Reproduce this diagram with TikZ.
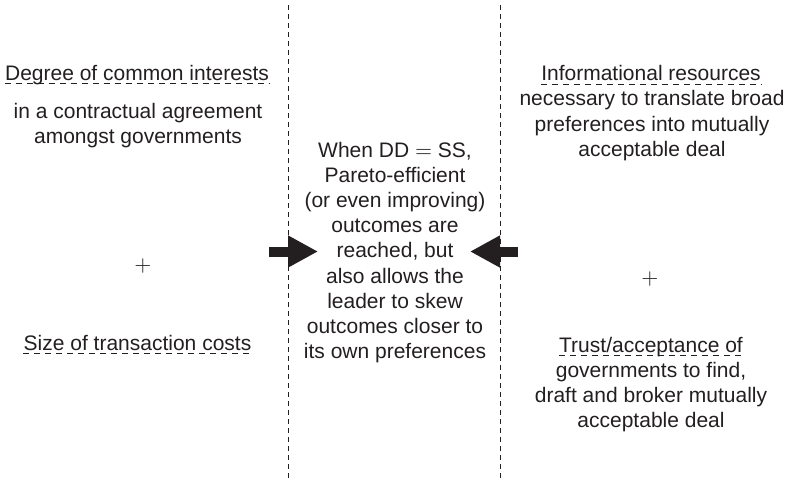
\documentclass[tikz,border=0pt]{standalone}
\usepackage{fontspec}
\setmainfont{Liberation Sans}
\usetikzlibrary{calc,positioning,arrows.meta}
\definecolor{inkgray}{HTML}{231F20}
\tikzset{
  txt/.style={
    text=inkgray,
    align=center,
    font=\fontsize{10.5}{12.6}\selectfont,
    inner sep=0pt,
    anchor=base
  },
  divider/.style={draw=inkgray, line width=0.5pt, dash pattern=on 2.5pt off 2pt},
  uline/.style={draw=inkgray, line width=0.5pt, dash pattern=on 3pt off 2.5pt},
  fatarrow/.style={draw=inkgray, line width=5pt,
    -{Triangle[length=15pt,width=15pt]}},
}

\begin{document}
\begin{tikzpicture}[x=0.5pt,y=-0.5pt]
  \useasboundingbox (0,0) rectangle (790,479);
  % column dividers
  \coordinate (divl top) at (288,5);
  \coordinate (divl bot) at (288,479);
  \coordinate (divr top) at (500,5);
  \coordinate (divr bot) at (500,479);
  \draw[divider] (divl top) -- (divl bot);
  \draw[divider] (divr top) -- (divr bot);

  % left column (base = last line)
  \node[txt] (common) at (137,80) {Degree of common interests};
  \node[txt] (agree) at (138,143.5)
    {in a contractual agreement\\amongst governments};
  \node[txt] (plusl) at (143,271) {$+$};
  \node[txt] (costs) at (137.5,350) {Size of transaction costs};

  % right column
  \node[txt] (info) at (651,80.7) {Informational resources};
  \node[txt] (infobody) at (652,156.3)
    {necessary to translate broad\\preferences into mutually\\acceptable deal};
  \node[txt] (plusr) at (650,284) {$+$};
  \node[txt] (trust) at (651,352) {Trust/acceptance of};
  \node[txt] (trustbody) at (651,427.6)
    {governments to find,\\draft and broker mutually\\acceptable deal};

  % underlines
  \foreach \n in {common,costs,info,trust}
    \draw[uline] ($(\n.base west)+(0,3.5)$) -- ($(\n.base east)+(0,3.5)$);

  % centre column
  \node[txt] (centre) at (395,358.6)
    {When DD $=$ SS,\\Pareto-efficient\\(or even improving)\\outcomes are\\
     reached, but\\also allows the\\leader to skew\\outcomes closer to\\
     its own preferences};

  % arrows
  \coordinate (ltail) at (269,251.5);
  \coordinate (lhead) at (318,251.5);
  \coordinate (rtail) at (518,251.5);
  \coordinate (rhead) at (470,251.5);
  \draw[fatarrow] (ltail) -- (lhead);
  \draw[fatarrow] (rtail) -- (rhead);
\end{tikzpicture}
\end{document}
